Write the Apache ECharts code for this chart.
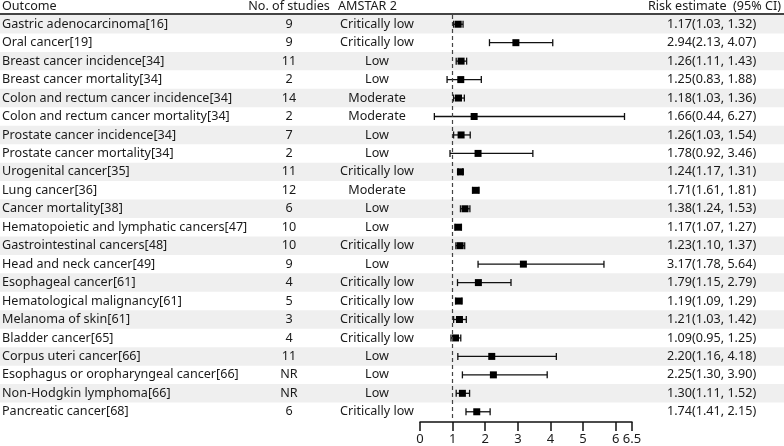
<!DOCTYPE html>
<html><head><meta charset="utf-8">
<script src="https://cdn.jsdelivr.net/npm/echarts@6/dist/echarts.min.js"></script>
<style>html,body{margin:0;padding:0;background:#fff}#c{width:784px;height:446px}</style>
</head><body><div id="c"></div>
<script>
var outcomes = ['Gastric adenocarcinoma[16]','Oral cancer[19]','Breast cancer incidence[34]','Breast cancer mortality[34]','Colon and rectum cancer incidence[34]','Colon and rectum cancer mortality[34]','Prostate cancer incidence[34]','Prostate cancer mortality[34]','Urogenital cancer[35]','Lung cancer[36]','Cancer mortality[38]','Hematopoietic and lymphatic cancers[47]','Gastrointestinal cancers[48]','Head and neck cancer[49]','Esophageal cancer[61]','Hematological malignancy[61]','Melanoma of skin[61]','Bladder cancer[65]','Corpus uteri cancer[66]','Esophagus or oropharyngeal cancer[66]','Non-Hodgkin lymphoma[66]','Pancreatic cancer[68]'];
var studies = ['9','9','11','2','14','2','7','2','11','12','6','10','10','9','4','5','3','4','11','NR','NR','6'];
var amstar = ['Critically low','Critically low','Low','Low','Moderate','Moderate','Low','Low','Critically low','Moderate','Low','Low','Critically low','Low','Critically low','Critically low','Critically low','Critically low','Low','Low','Low','Critically low'];
var estimate = [1.17,2.94,1.26,1.25,1.18,1.66,1.26,1.78,1.24,1.71,1.38,1.17,1.23,3.17,1.79,1.19,1.21,1.09,2.20,2.25,1.30,1.74];
var lower = [1.03,2.13,1.11,0.83,1.03,0.44,1.03,0.92,1.17,1.61,1.24,1.07,1.10,1.78,1.15,1.09,1.03,0.95,1.16,1.30,1.11,1.41];
var upper = [1.32,4.07,1.43,1.88,1.36,6.27,1.54,3.46,1.31,1.81,1.53,1.27,1.37,5.64,2.79,1.29,1.42,1.25,4.18,3.90,1.52,2.15];
var xTicks = [0,1,2,3,4,5,6,6.5];
var headers = ['Outcome','No. of studies','AMSTAR 2','Risk estimate  (95% CI)'];

var FONT = '"Noto Sans", sans-serif';
var FS = 12.6;
var TXT = '#1a1a1a';
function fmt(v){ return v.toFixed(2); }

var rows = outcomes.map(function(o,i){ return [estimate[i], i, lower[i], upper[i]]; });

var chart = echarts.init(document.getElementById('c'), null, {renderer:'canvas'});
chart.setOption({
  animation:false,
  backgroundColor:'#fff',
  grid:{left:420, right:152, top:15, bottom:24},
  xAxis:{type:'value', min:0, max:6.5, interval:1, offset:1,
    axisLine:{show:true, lineStyle:{color:'#111', width:1.5}},
    axisTick:{show:true, length:9, lineStyle:{color:'#111', width:1.5}, customValues:xTicks},
    axisLabel:{color:TXT, fontSize:FS+0.4, fontFamily:FONT, margin:11, showMaxLabel:true, showMinLabel:true, customValues:xTicks},
    splitLine:{show:false}},
  yAxis:{type:'category', inverse:true, data:outcomes, show:false},
  graphic:[
    {type:'text', x:2, y:6, style:{text:headers[0], fontSize:FS, fontFamily:FONT, fill:TXT, textAlign:'left', textVerticalAlign:'middle'}},
    {type:'text', x:289, y:6, style:{text:headers[1], fontSize:FS, fontFamily:FONT, fill:TXT, textAlign:'center', textVerticalAlign:'middle'}},
    {type:'text', x:338, y:6, style:{text:headers[2], fontSize:FS, fontFamily:FONT, fill:TXT, textAlign:'left', textVerticalAlign:'middle'}},
    {type:'text', x:781, y:6, style:{text:headers[3], fontSize:FS, fontFamily:FONT, fill:TXT, textAlign:'right', textVerticalAlign:'middle'}},
    {type:'line', shape:{x1:0, y1:14, x2:784, y2:14}, style:{stroke:'#444', lineWidth:2}, z:10}
  ],
  series:[
    {type:'custom', z:1, silent:true, data:rows, encode:{x:0, y:1},
      renderItem:function(params, api){
        var i = api.value(1);
        var p = api.coord([0, i]);
        var h = api.size([0,1])[1];
        var W = api.getWidth();
        var ch = [];
        if (i % 2 === 0) ch.push({type:'rect', shape:{x:0, y:p[1]-h/2, width:W, height:h}, style:{fill:'#efefef'}});
        var ts = function(t, x, align){ return {type:'text', x:x, y:p[1], style:{text:t, fontSize:FS, fontFamily:FONT, fill:TXT, textAlign:align, textVerticalAlign:'middle'}}; };
        ch.push(ts(outcomes[i], 2, 'left'));
        ch.push(ts(studies[i], 289, 'center'));
        ch.push(ts(amstar[i], 377, 'center'));
        ch.push(ts(fmt(estimate[i])+'('+fmt(lower[i])+', '+fmt(upper[i])+')', 667, 'left'));
        return {type:'group', children:ch};
      }},
    {type:'custom', z:3, silent:true, data:rows, encode:{x:[0,2,3], y:1},
      renderItem:function(params, api){
        var i = api.value(1);
        var c = api.coord([api.value(0), i]);
        var l = api.coord([api.value(2), i]);
        var u = api.coord([api.value(3), i]);
        var st = {stroke:'#111', lineWidth:1.3};
        return {type:'group', children:[
          {type:'line', shape:{x1:l[0], y1:c[1], x2:u[0], y2:c[1]}, style:st},
          {type:'line', shape:{x1:l[0], y1:c[1]-3.5, x2:l[0], y2:c[1]+3.5}, style:st},
          {type:'line', shape:{x1:u[0], y1:c[1]-3.5, x2:u[0], y2:c[1]+3.5}, style:st},
          {type:'rect', shape:{x:c[0]-3.5, y:c[1]-3.5, width:7, height:7}, style:{fill:'#000'}}
        ]};
      },
      markLine:{silent:true, symbol:'none', label:{show:false}, lineStyle:{color:'#444', type:[4,3], width:1.2},
        data:[{xAxis:1}]}}
  ]
});
</script></body></html>
